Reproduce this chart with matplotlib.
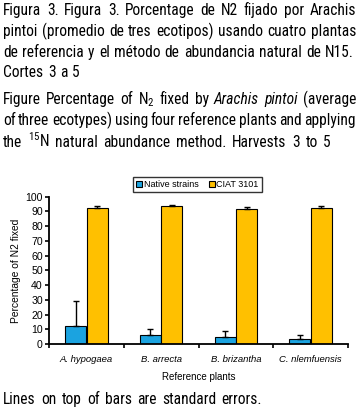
import numpy as np
import matplotlib
matplotlib.use("Agg")
import matplotlib.pyplot as plt
from matplotlib import font_manager

# data
plants = ["A. hypogaea", "B. arrecta", "B. brizantha", "C. nlemfuensis"]
native = [12.2, 6.0, 5.0, 3.4]
native_err = [17.3, 4.4, 3.5, 2.5]
ciat = [92.5, 93.5, 91.5, 92.5]
ciat_err = [1.0, 0.8, 1.5, 1.0]
series_names = ["Native strains", "CIAT 3101"]

caption_es = [
    "Figura 3. Figura 3. Porcentage de N2 fijado por Arachis",
    "pintoi (promedio de tres ecotipos) usando cuatro plantas",
    "de referencia y el método de abundancia natural de N15.",
    "Cortes 3 a 5",
]
# (word, italic) pairs for the english caption
caption_en = [
    [("Figure", 0), ("Percentage", 0), ("of", 0), ("N$_2$", 0), ("fixed", 0), ("by", 0),
     ("Arachis", 1), ("pintoi", 1), ("(average", 0)],
    [(w, 0) for w in "of three ecotypes) using four reference plants and applying".split()],
    [(w, 0) for w in "the $^{15}$N natural abundance method. Harvests 3 to 5".split()],
]
footnote = "Lines on top of bars are standard errors."

W, H = 360, 419
names = {f.name for f in font_manager.fontManager.ttflist}
narrow = "Liberation Sans"
for cand in ["Roboto Condensed", "PT Sans Narrow", "Archivo Narrow", "Liberation Sans Narrow"]:
    if cand in names:
        narrow = cand
        break
plt.rcParams["font.family"] = "Liberation Sans"
plt.rcParams["mathtext.fontset"] = "custom"
plt.rcParams["mathtext.rm"] = narrow
plt.rcParams["mathtext.it"] = narrow + ":italic"

fig = plt.figure(figsize=(W / 100, H / 100), dpi=100)
renderer = fig.canvas.get_renderer()


def justify(words, baseline, x0, x1, size=11.2):
    # place words so the line spans x0..x1 pixels (like the scanned caption)
    texts = []
    for w, it in words:
        t = fig.text(0, 1 - baseline / H, w, family=narrow, fontsize=size,
                     style="italic" if it else "normal", va="baseline", ha="left")
        texts.append(t)
    widths = [t.get_window_extent(renderer).width for t in texts]
    gap = (x1 - x0 - sum(widths)) / max(len(texts) - 1, 1)
    x = x0
    for t, w in zip(texts, widths):
        t.set_x(x / W)
        x += w + gap


es_right = [356, 356, 354, 80]
for i, line in enumerate(caption_es):
    justify([(w, 0) for w in line.split()], 15 + 20.8 * i, 3, es_right[i])

en_right = [356, 356, 331]
for i, words in enumerate(caption_en):
    justify(words, 104 + 21.3 * i, 3, en_right[i])

justify([(w, 0) for w in footnote.split()], 404, 3, 262)

# chart
ax = fig.add_axes([49 / W, 1 - 344 / H, 299 / W, (344 - 196.7) / H])
x = np.arange(len(plants))
bw = 0.28
off = 0.145
b1 = ax.bar(x - off, native, bw, color="#1BA3E0", edgecolor="black", linewidth=0.8,
            label=series_names[0])
b2 = ax.bar(x + off, ciat, bw, color="#FFC000", edgecolor="black", linewidth=0.8,
            label=series_names[1])
ax.errorbar(x - off, native, yerr=[np.zeros(len(native)), native_err], fmt="none",
            ecolor="black", elinewidth=1, capsize=2.5, capthick=1)
ax.errorbar(x + off, ciat, yerr=[np.zeros(len(ciat)), ciat_err], fmt="none",
            ecolor="black", elinewidth=1, capsize=2.5, capthick=1)

ax.set_xlim(-0.5, len(plants) - 0.5)
ax.set_ylim(0, 100)
ax.set_yticks(np.arange(0, 101, 10))
ax.set_xticks(np.arange(-0.5, len(plants), 1.0))
ax.set_xticklabels([])
ax.set_xticks(x, minor=True)
ax.set_xticklabels(plants, minor=True, style="italic", fontsize=6.8)
ax.tick_params(axis="x", which="minor", length=0, pad=8)
ax.tick_params(axis="x", which="major", length=3, width=1.2, direction="out")
ax.tick_params(axis="y", length=3, width=1.2, direction="out", labelsize=7.6, pad=1.5)
for s in ["top", "right"]:
    ax.spines[s].set_visible(False)
for s in ["left", "bottom"]:
    ax.spines[s].set_linewidth(1.3)
ax.set_ylabel("Percentage of N2 fixed", fontsize=7.4, labelpad=3)
ax.set_xlabel("Reference plants", fontsize=7, labelpad=6)

leg = fig.legend(handles=[b1, b2], loc="upper center", ncol=2,
                 bbox_to_anchor=(197.5 / W, 1 - 177 / H), fontsize=6.5,
                 frameon=True, fancybox=False, edgecolor="black",
                 handlelength=0.6, handleheight=0.6, handletextpad=0.2,
                 columnspacing=1.2, borderpad=0.35, borderaxespad=0)
leg.get_frame().set_linewidth(1.0)

fig.savefig("out.png", dpi=100)
